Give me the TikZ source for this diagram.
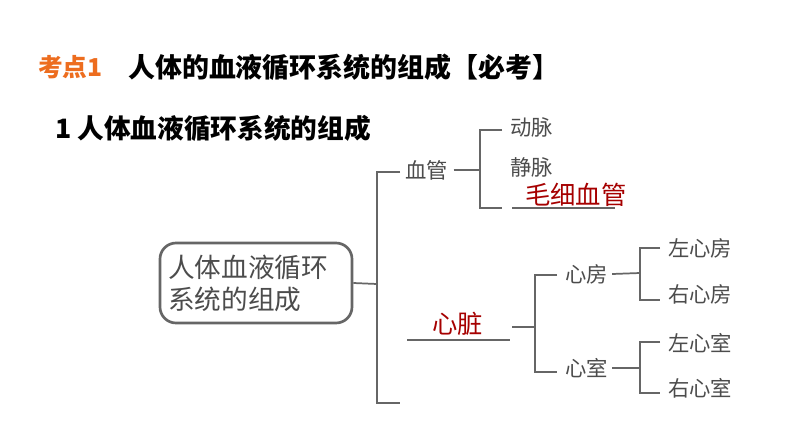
\documentclass[tikz,border=0pt]{standalone}
\usepackage{fontspec}
\setmainfont{Noto Sans CJK SC}
\newfontfamily\cjkb{Noto Sans CJK SC Black}
\begin{document}
\begin{tikzpicture}[x=0.75pt,y=-0.75pt,
  ln/.style={draw=black!60,line width=1.3pt},
  hw/.style={text=black!70,font=\fontsize{16}{17}\selectfont,inner sep=0pt},
  rd/.style={text=red!65!black,font=\fontsize{19}{20}\selectfont,inner sep=0pt}]
\useasboundingbox (0,0) rectangle (794,447);
\fill[white] (0,0) rectangle (794,447);
\node[anchor=west,inner sep=0pt,text={rgb,255:red,237;green,109;blue,31},font=\cjkb\fontsize{18.5}{19}\selectfont] (kd) at (38,67) {考点1};
\node[anchor=west,inner sep=0pt,font=\cjkb\fontsize{20.2}{21}\selectfont] (tt) at (128,67) {人体的血液循环系统的组成【必考】};
\node[anchor=west,inner sep=0pt,font=\cjkb\fontsize{20}{21}\selectfont] (st) at (55,128) {1 人体血液循环系统的组成};
\node[draw=black!60,line width=2pt,rounded corners=12pt,minimum width=144pt,minimum height=60pt,text width=132pt,align=left,text=black!70,font=\fontsize{20}{24}\selectfont] (root) at (256,283) {人体血液循环\\系统的组成};
\coordinate (b1) at (377,284);
\draw[ln] (root.east) -- (b1);
\draw[ln] (400,172) -- (377,172) -- (377,403) -- (400,403);
\node[hw,anchor=west] (xg) at (405,170) {血管};
\draw[ln] ([xshift=4pt]xg.east) -- (480,170);
\draw[ln] (502,130) -- (480,130) -- (480,208) -- (502,208);
\node[hw,anchor=west] (dm) at (510,127) {动脉};
\node[hw,anchor=west] (jm) at (510,167) {静脉};
\node[rd,anchor=west] (mx) at (525,195) {毛细血管};
\draw[ln,line width=1pt] (512,208) -- (615,208);
\node[rd,anchor=west] (xz) at (432,324) {心脏};
\draw[ln,line width=1pt] (407,340) -- (510,340);
\draw[ln] (512,327) -- (535,327);
\draw[ln] (557,275) -- (535,275) -- (535,372) -- (557,372);
\node[hw,anchor=west] (xf) at (565,274) {心房};
\node[hw,anchor=west] (xs) at (565,368) {心室};
\draw[ln] ([xshift=3pt]xf.east) -- (640,273);
\draw[ln] ([xshift=3pt]xs.east) -- (640,368);
\draw[ln] (660,248) -- (640,248) -- (640,300) -- (660,300);
\draw[ln] (660,342) -- (640,342) -- (640,393) -- (660,393);
\node[hw,anchor=west] (zf) at (668,248) {左心房};
\node[hw,anchor=west] (yf) at (668,294) {右心房};
\node[hw,anchor=west] (zs) at (668,343) {左心室};
\node[hw,anchor=west] (ys) at (668,388) {右心室};
\end{tikzpicture}
\end{document}
